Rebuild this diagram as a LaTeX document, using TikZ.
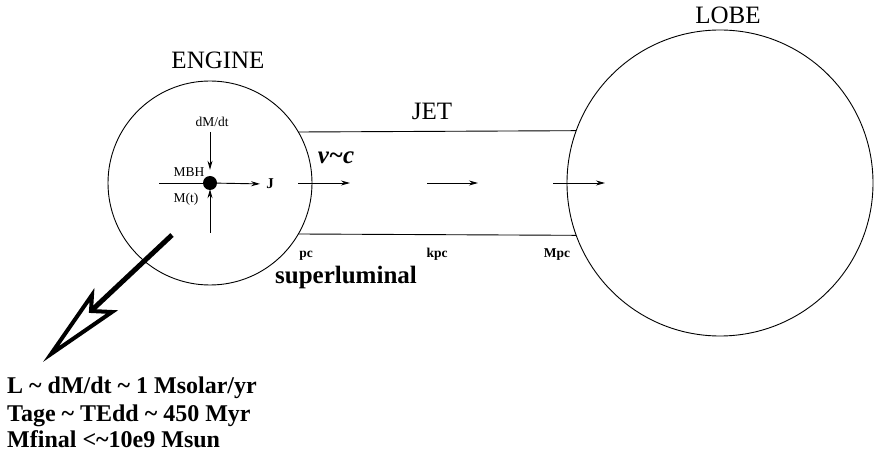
\documentclass[tikz,border=0pt]{standalone}
\usepackage{fontspec}
\setmainfont{Liberation Serif}
\usetikzlibrary{arrows.meta}
\begin{document}
\begin{tikzpicture}[x=1pt,y=-1pt,
  thinline/.style={line width=0.9pt},
  flow/.style={line width=0.9pt,-{Stealth[length=9pt,width=5pt]}},
  ring/.style={draw,circle,inner sep=0pt,outer sep=0pt,line width=0.9pt},
  title/.style={inner sep=0pt,font=\fontsize{25}{30}\selectfont},
  small/.style={inner sep=0pt,font=\fontsize{13.5}{16}\selectfont},
  distlbl/.style={inner sep=0pt,anchor=base,font=\fontsize{13.5}{16}\selectfont\bfseries},
  note/.style={inner sep=0pt,anchor=base west,font=\fontsize{24}{28}\selectfont\bfseries}]
\useasboundingbox (0,0) rectangle (881,454);

% the two bodies
\node[ring,minimum size=204pt] (engine) at (210,183) {};
\node[ring,minimum size=306pt] (lobe) at (720,183) {};
\node[title] (engineLbl) at (218,60) {ENGINE};
\node[title] (lobeLbl) at (728,15) {LOBE};

% jet channel
\draw[thinline] (engine.30) -- (lobe.160.5);
\draw[thinline] (engine.-30) -- (lobe.-160.5);
\node[title] (jetLbl) at (432,111) {JET};

% flow arrows along the jet
\coordinate (ja1) at (298,183); \coordinate (jb1) at (350,183);
\coordinate (ja2) at (427,183); \coordinate (jb2) at (478,183);
\coordinate (ja3) at (553,183); \coordinate (jb3) at (605,183);
\draw[flow] (ja1) -- (jb1);
\draw[flow] (ja2) -- (jb2);
\draw[flow] (ja3) -- (jb3);

\node[inner sep=0pt,font=\fontsize{25}{30}\selectfont\bfseries\itshape] (vc) at (336,158) {v\textasciitilde c};
\node[distlbl] (pc) at (306,258) {pc};
\node[distlbl] (kpc) at (437,258) {kpc};
\node[distlbl] (Mpc) at (557,258) {Mpc};
\node[inner sep=0pt,anchor=base,font=\fontsize{25}{30}\selectfont\bfseries] (sl) at (346,284) {superluminal};

% central engine: black hole with accretion and outflow
\node[circle,fill,minimum size=14pt,inner sep=0pt] (bh) at (210,183) {};
\coordinate (feedL) at (159,183);
\coordinate (feedT) at (210,132);
\coordinate (feedB) at (210,233);
\draw[thinline] (feedL) -- (bh);
\draw[flow,shorten >=6pt] (feedT) -- (bh.north);
\draw[flow,shorten >=-1pt] (feedB) -- (bh.south);
\node[inner sep=1pt,font=\fontsize{15}{18}\selectfont\bfseries] (J) at (270,184) {J};
\draw[flow,shorten >=5pt] (bh) -- (J.west);
\node[small] (dMdt) at (212,122) {dM/dt};
\node[small] (MBH) at (189,172) {MBH};
\node[small] (Mt) at (186,199) {M(t)};

% thick outlined arrow pointing to the summary
\coordinate (shaft) at (172,235);
\coordinate (tip) at (51,354);
\coordinate (barbA) at (92,295);
\coordinate (notch) at (91,311);
\coordinate (barbB) at (112,312);
\draw[line width=5pt] (shaft) -- (notch);
\draw[line width=4pt,line join=miter] (tip) -- (barbA) -- (notch) -- (barbB) -- cycle;

\node[note] (s1) at (7,393) {L \textasciitilde{} dM/dt \textasciitilde{} 1 Msolar/yr};
\node[note] (s2) at (7,421) {Tage \textasciitilde{} TEdd \textasciitilde{} 450 Myr};
\node[note] (s3) at (7,447) {Mfinal <\textasciitilde10e9 Msun};
\end{tikzpicture}
\end{document}
